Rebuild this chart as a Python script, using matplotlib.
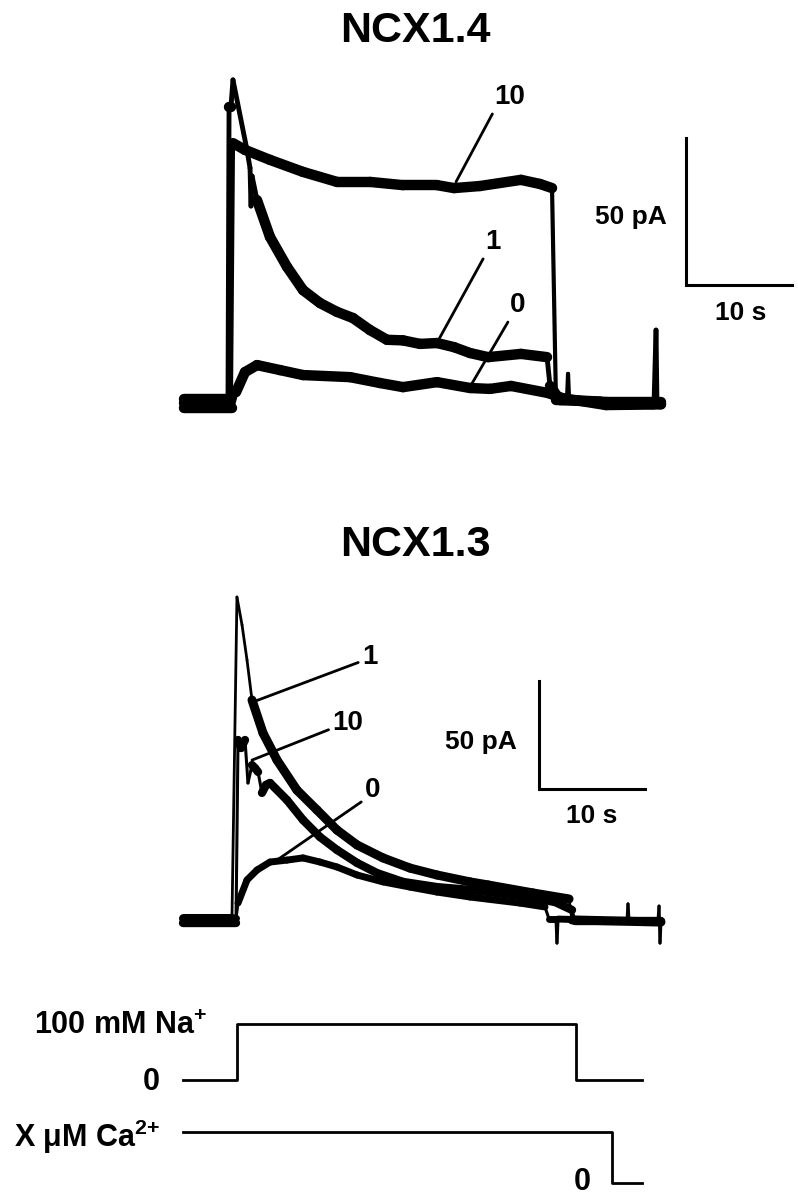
import matplotlib
matplotlib.use('Agg')
import matplotlib.pyplot as plt
from matplotlib.collections import LineCollection
import numpy as np

plt.rcParams['font.family'] = ['Liberation Sans', 'DejaVu Sans']
plt.rcParams['font.weight'] = 'bold'
plt.rcParams['mathtext.fontset'] = 'custom'
plt.rcParams['mathtext.rm'] = 'Liberation Sans:bold'
plt.rcParams['mathtext.bf'] = 'Liberation Sans:bold'
plt.rcParams['mathtext.default'] = 'bf'

# ---- NCX1.4 traces (time in s, current in pA)
t14_10 = [0, 4.43, 4.62, 5.75, 8.11, 11.23, 14.43, 17.55, 20.66, 23.87, 25.47, 27.92,
          31.79, 33.58, 34.72, 35.09, 36.13, 36.23, 36.33, 39.25, 45.0]
i14_10 = [1.5, 1.5, 88.4, 86.1, 82.7, 78.6, 75.2, 75.2, 74.1, 74.1, 73.1, 73.8,
          75.9, 74.5, 73.1, 1.0, 1.0, 9.9, 1.0, 0.5, 0.5]

t14_1 = [0, 4.15, 4.25, 4.43, 4.62, 5.94, 6.23, 6.32, 6.42, 6.89, 8.11, 9.72, 11.23,
         12.83, 14.43, 15.94, 17.55, 19.15, 20.66, 22.26, 23.87, 25.47, 26.98, 28.68,
         31.79, 34.25, 34.53, 35.47, 45.0]
i14_1 = [0, 0, 100.7, 100.7, 109.9, 86.1, 79.9, 67.0, 77.2, 69.0, 56.5, 46.3, 38.4,
         34.0, 31.0, 28.9, 24.8, 21.5, 21.3, 20.1, 20.4, 19.0, 17.0, 15.6,
         16.7, 15.6, 5.8, 1.0, -0.5]

t14_0 = [0, 4.53, 4.91, 5.75, 6.89, 9.06, 11.23, 15.66, 18.49, 20.66, 23.87, 26.98,
         28.87, 30.85, 34.34, 35.66, 39.81, 44.34, 44.53, 44.62, 45.0]
i14_0 = [-1.7, -1.7, 3.7, 10.5, 12.9, 11.2, 9.5, 8.8, 6.8, 5.4, 7.1, 5.1,
         4.8, 5.8, 3.4, 1.7, -0.7, -0.5, 24.8, -0.5, -0.5]

# ---- NCX1.3 traces
t13_1 = [0, 4.62, 5.09, 5.57, 6.04, 6.51, 7.55, 8.87, 10.75, 12.64, 14.53, 16.42,
         18.87, 21.42, 23.96, 27.08, 28.77, 33.0, 36.42, 36.70, 45.09]
i13_1 = [1.4, 1.4, 150.0, 137.0, 120.8, 102.3, 87.0, 74.5, 60.6, 51.4, 42.1, 35.2,
         29.2, 24.5, 21.3, 18.1, 16.7, 13.0, 10.2, 0.5, -0.5]

t13_10 = [0, 5.0, 5.19, 5.47, 5.85, 6.13, 6.51, 6.79, 7.08, 7.45, 7.83, 8.21, 9.81,
          11.32, 12.92, 14.53, 16.42, 18.30, 20.75, 23.96, 27.08, 31.79, 35.09,
          36.70, 36.98, 45.09]
i13_10 = [-0.9, -0.9, 83.8, 80.1, 83.8, 63.9, 72.2, 70.8, 69.0, 59.3, 63.0, 63.9, 56.0,
          46.8, 38.9, 32.9, 26.9, 22.2, 18.1, 15.7, 14.4, 11.6, 8.8,
          5.1, 0, 0]

t13_0 = [0, 5.0, 5.19, 6.04, 6.98, 8.21, 9.81, 11.32, 12.92, 14.53, 16.42, 18.87,
         21.42, 23.96, 27.08, 31.79, 34.15, 34.53, 35.19, 35.28, 35.38, 41.89, 41.98,
         42.08, 44.81, 44.91, 45.0, 45.09]
i13_0 = [1.4, 1.4, 8.3, 19.0, 23.6, 27.3, 28.2, 29.2, 27.3, 25.0, 21.3, 18.1,
         15.7, 13.4, 11.1, 8.3, 6.5, 0.9, 0.9, -10.2, 0.9, 0.0, 7.9,
         0.0, 0.0, 6.9, -10.2, -0.5]

# ---- solution protocol
na_t = [0, 5.09, 5.09, 37.08, 37.08, 43.3]
na_mM = [0, 0, 100, 100, 0, 0]
ca_t = [0, 40.47, 40.47, 43.3]
ca_level = [1, 1, 0, 0]

bar_s = 10
bar_pA = 50

W, H = 798, 1199
fig = plt.figure(figsize=(W / 100, H / 100), dpi=100)


def frame(x0, y0, sx, sy):
    # full-figure axes: x0/y0 = pixel of data origin, sx/sy = px per unit
    ax = fig.add_axes([0, 0, 1, 1])
    ax.set_xlim(-x0 / sx, (W - x0) / sx)
    ax.set_ylim((y0 - H) / sy, y0 / sy)
    ax.axis('off')
    ax.patch.set_alpha(0)
    return ax, sx, sy


def trace(axs, t, i, lw, lw_steep):
    ax, sx, sy = axs
    t = np.asarray(t, float)
    i = np.asarray(i, float)
    pts = np.column_stack([t, i])
    segs = np.stack([pts[:-1], pts[1:]], axis=1)
    dx = np.abs(np.diff(t)) * sx
    dy = np.abs(np.diff(i)) * sy
    widths = np.where(dy > 3 * dx, lw_steep, lw)
    lc = LineCollection(segs, linewidths=widths, colors='k', capstyle='round',
                        joinstyle='round')
    ax.add_collection(lc)


def label(axs, txt, xy, xytext, rel):
    ax = axs[0]
    ax.annotate(txt, xy=xy, xytext=xytext, fontsize=20, fontweight='bold',
                ha='center', va='center',
                arrowprops=dict(arrowstyle='-', lw=2.0, color='k', relpos=rel,
                                shrinkA=1, shrinkB=0))


def scalebar(axs, t0, i0, txt_y, txt_x):
    ax = axs[0]
    ax.plot([t0, t0, t0 + bar_s], [i0 + bar_pA, i0, i0], color='k', lw=2.2,
            solid_joinstyle='miter')
    ax.text(txt_y[0], txt_y[1], '%d pA' % bar_pA, fontsize=19, fontweight='bold',
            ha='center', va='center')
    ax.text(txt_x[0], txt_x[1], '%d s' % bar_s, fontsize=19, fontweight='bold',
            ha='center', va='center')


# NCX1.4 panel
top = frame(184, 403, 10.6, 2.94)
trace(top, t14_0, i14_0, 7.5, 3.5)
trace(top, t14_1, i14_1, 7.5, 3.5)
trace(top, t14_10, i14_10, 7.5, 3.0)
label(top, '10', (25.66, 75.2), (30.75, 104.1), (0.0, 0.0))
label(top, '1', (23.96, 21.1), (29.15, 54.8), (0.0, 0.0))
label(top, '0', (27.08, 6.1), (31.51, 33.3), (0.0, 0.0))
scalebar(top, 47.36, 40.1, (42.17, 63.3), (52.55, 30.6))

# NCX1.3 panel
bot = frame(183, 921, 10.6, 2.16)
trace(bot, t13_0, i13_0, 5.0, 2.2)
trace(bot, t13_10, i13_10, 6.0, 2.2)
trace(bot, t13_1, i13_1, 6.5, 2.0)
label(bot, '1', (6.60, 101.4), (17.64, 122.2), (0.0, 0.35))
label(bot, '10', (6.51, 74.5), (15.57, 91.7), (0.0, 0.3))
label(bot, '0', (8.87, 28.2), (17.92, 60.6), (0.0, 0.15))
scalebar(bot, 33.58, 61.1, (28.11, 82.9), (38.58, 48.6))

# protocol
na = frame(183, 1080, 10.6, 0.56)
na[0].plot(na_t, na_mM, color='k', lw=2.0)
na[0].text(2.26, 96.4, r'100 mM Na$^{{+}}$', fontsize=22, fontweight='bold',
           ha='right', va='center')
na[0].text(-2.17, -3.6, '0', fontsize=22, fontweight='bold', ha='right', va='center')

ca = frame(183, 1183, 10.6, 51)
ca[0].plot(ca_t, ca_level, color='k', lw=2.0)
ca[0].text(-2.17, 0.90, r'X μM Ca$^{2{+}}$', fontsize=22, fontweight='bold',
           ha='right', va='center')
ca[0].text(37.64, 0.02, '0', fontsize=22, fontweight='bold', ha='center', va='center')

fig.text(415 / W, 1 - 31 / H, 'NCX1.4', fontsize=31, fontweight='bold',
         ha='center', va='center')
fig.text(415 / W, 1 - 545 / H, 'NCX1.3', fontsize=31, fontweight='bold',
         ha='center', va='center')

fig.savefig('out.png', dpi=100, facecolor='white')
